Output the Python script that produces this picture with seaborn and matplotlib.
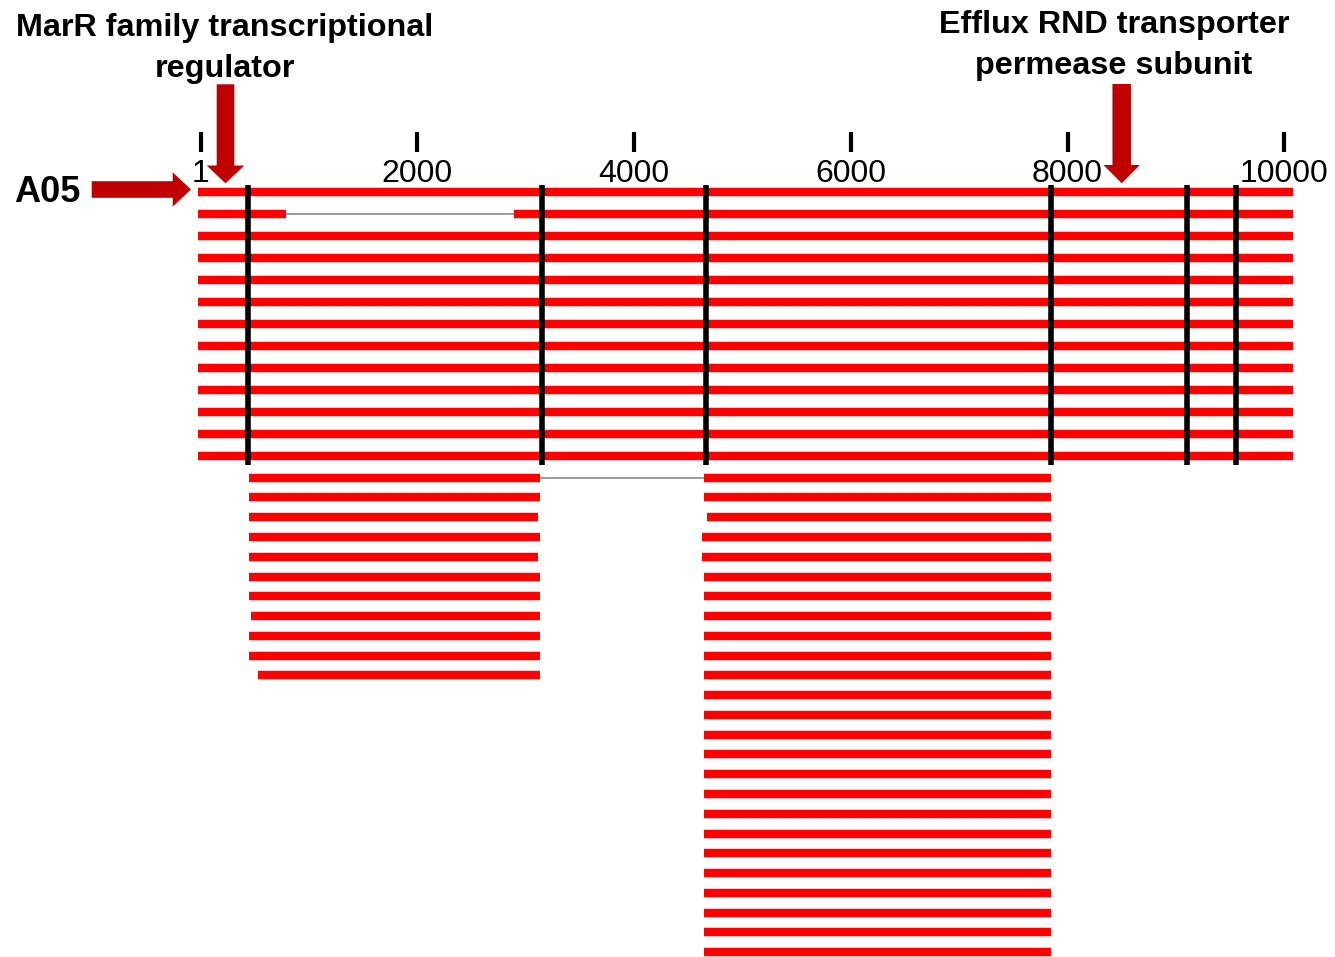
import numpy as np
import pandas as pd
import matplotlib
matplotlib.use("Agg")
import matplotlib.pyplot as plt
from matplotlib.patches import FancyArrow
import seaborn as sns

# ---------------- data ----------------
tick_positions = [1, 2000, 4000, 6000, 8000, 10000]
tick_labels = ["1", "2000", "4000", "6000", "8000", "10000"]
boundary_positions = [440, 3147, 4667, 7847, 9105, 9557]

# top block: 13 reads spanning the whole contig (2nd read split)
top_reads = [
    [(-20, 10083)],
    [(-20, 787), (2894, 10083)],
    [(-20, 10083)],
    [(-20, 10083)],
    [(-20, 10083)],
    [(-20, 10083)],
    [(-20, 10083)],
    [(-20, 10083)],
    [(-20, 10083)],
    [(-20, 10083)],
    [(-20, 10083)],
    [(-20, 10083)],
    [(-20, 10083)],
]

# lower-left block (11 reads)
left_starts = [447, 447, 447, 447, 447, 447, 447, 465, 447, 447, 527]
left_ends = [3132, 3132, 3111, 3132, 3111, 3132, 3132, 3132, 3132, 3132, 3132]

# lower-right block (25 reads); first read is joined to the first lower-left read
right_starts = [4648, 4648, 4670, 4630, 4630, 4648, 4648, 4648, 4648, 4648,
                4648, 4648, 4648, 4648, 4648, 4648, 4648, 4648, 4648, 4648,
                4648, 4648, 4648, 4648, 4648]
right_ends = [7845, 7845, 7845, 7845, 7845, 7845, 7845, 7845, 7845, 7845,
              7845, 7845, 7845, 7845, 7845, 7845, 7845, 7845, 7845, 7845,
              7845, 7845, 7845, 7845, 7845]

gene_labels = ["MarR family transcriptional\nregulator",
               "Efflux RND transporter\npermease subunit"]
contig_name = "A05"

# ---------------- layout ----------------
W, H = 1335, 957
PX_PER_BP = 0.10837
X0_PX = 200.7                      # pixel of position 1
xmin = 1 - X0_PX / PX_PER_BP
xmax = xmin + W / PX_PER_BP
top_y0, top_dy = 191.6, 22.0
low_y0, low_dy = 477.7, 19.77

RED = "#FF0000"
DARKRED = "#C00000"
GAP = "#9A9A9A"

# build segment tables
aligned_rows, gap_rows = [], []
seg = 0
def add_read(segments, y):
    global seg
    for i, (s, e) in enumerate(segments):
        aligned_rows.append((seg, s, y)); aligned_rows.append((seg, e, y)); seg += 1
        if i > 0:
            ps = segments[i - 1][1]
            gap_rows.append((seg, ps, y)); gap_rows.append((seg, s, y)); seg += 1

for i, segs in enumerate(top_reads):
    add_read(segs, top_y0 + i * top_dy)

n_low = max(len(left_starts), len(right_starts))
for i in range(n_low):
    y = low_y0 + i * low_dy
    segs = []
    if i < len(left_starts):
        segs.append((left_starts[i], left_ends[i]))
    if i < len(right_starts):
        if i == 0:
            segs.append((right_starts[i], right_ends[i]))
        else:
            add_read([(right_starts[i], right_ends[i])], y)
    if segs:
        add_read(segs, y)

aligned = pd.DataFrame(aligned_rows, columns=["seg", "pos", "y"])
gaps = pd.DataFrame(gap_rows, columns=["seg", "pos", "y"])

# ---------------- plot ----------------
sns.set_theme(style="white")
plt.rcParams["font.family"] = ["Liberation Sans", "DejaVu Sans"]
plt.rcParams["text.color"] = "black"

fig = plt.figure(figsize=(W / 100, H / 100), dpi=100)
ax = fig.add_axes([0, 0, 1, 1])

sns.lineplot(data=gaps, x="pos", y="y", units="seg", estimator=None, sort=False,
             color=GAP, linewidth=1.4, ax=ax, legend=False)
sns.lineplot(data=aligned, x="pos", y="y", units="seg", estimator=None, sort=False,
             color=RED, linewidth=6.1, solid_capstyle="butt", ax=ax, legend=False)

ax.vlines(boundary_positions, 185, 465, color="black", linewidth=4.0)
ax.vlines(tick_positions, 131.7, 152.3, color="black", linewidth=3.0)
for p, lab in zip(tick_positions, tick_labels):
    ax.text(p, 182.3, lab, ha="center", va="baseline", fontsize=23, color="black")

ax.set_xlim(xmin, xmax)
ax.set_ylim(H, 0)
ax.axis("off")

# overlay axes in pixel units for annotations
ov = fig.add_axes([0, 0, 1, 1])
ov.set_xlim(0, W)
ov.set_ylim(H, 0)
ov.axis("off")
ov.patch.set_alpha(0)

# MarR arrow (down)
ov.add_patch(FancyArrow(225.5, 84.3, 0, 183.3 - 84.3, width=17.6, head_width=37.6,
                        head_length=17.8, length_includes_head=True,
                        color=DARKRED, linewidth=0))
# Efflux arrow (down)
ov.add_patch(FancyArrow(1121.7, 84.0, 0, 183.3 - 84.0, width=18.5, head_width=36.5,
                        head_length=18.3, length_includes_head=True,
                        color=DARKRED, linewidth=0))
# A05 arrow (right)
ov.add_patch(FancyArrow(91.7, 189.5, 191 - 91.7, 0, width=16.6, head_width=34.4,
                        head_length=18.3, length_includes_head=True,
                        color=DARKRED, linewidth=0))

TS = 23.3
l1, l2 = gene_labels[0].split("\n")
ov.text(225, 36, l1, ha="center", va="baseline", fontsize=TS, fontweight="bold", color="black")
ov.text(225, 76.5, l2, ha="center", va="baseline", fontsize=TS, fontweight="bold", color="black")
e1, e2 = gene_labels[1].split("\n")
ov.text(1114, 33.3, e1, ha="center", va="baseline", fontsize=TS, fontweight="bold", color="black")
ov.text(1114, 74, e2, ha="center", va="baseline", fontsize=TS, fontweight="bold", color="black")

ov.text(47.5, 202.3, contig_name, ha="center", va="baseline", fontsize=26,
        fontweight="bold", color="black")

fig.savefig("out.png", dpi=100)
